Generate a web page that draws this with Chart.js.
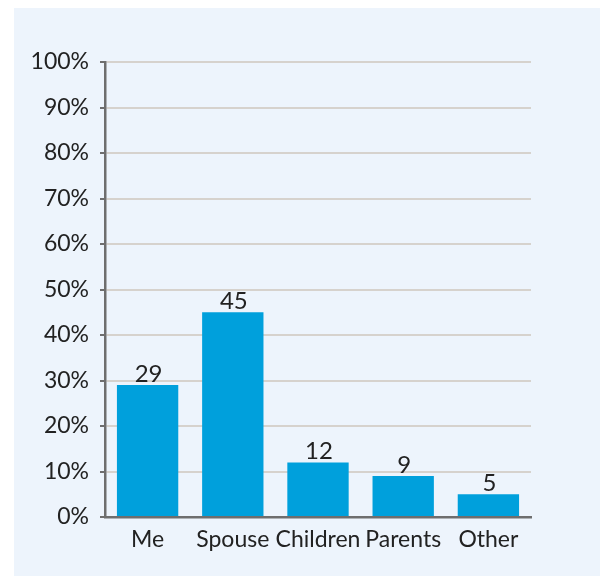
<!DOCTYPE html>
<html>
<head>
<meta charset="utf-8">
<script src="https://cdn.jsdelivr.net/npm/chart.js@4/dist/chart.umd.min.js"></script>
<style>
  html, body { margin: 0; padding: 0; background: #ffffff; }
  #wrap { position: relative; width: 600px; height: 576px; }
  #panel { position: absolute; left: 14px; top: 8px; right: 0; bottom: 0; background: #EDF4FC; }
  #c { position: absolute; left: 0; top: 0; }
</style>
</head>
<body>
<div id="wrap">
  <div id="panel"></div>
  <canvas id="c" width="600" height="576"></canvas>
</div>
<script>
// Who the respondents answer for, percent of responses
const categories = ['Me', 'Spouse', 'Children', 'Parents', 'Other'];
const shares = [29, 45, 12, 9, 5];
const yTicks = [0, 10, 20, 30, 40, 50, 60, 70, 80, 90, 100];

const FONT = 'Lato, "Open Sans", sans-serif';
const AXIS_GREY = '#6E6E6E';
const BAR_BLUE = '#00A0DC';

// Writes each bar's value just above its top
const valueLabels = {
  id: 'valueLabels',
  afterDatasetsDraw(chart) {
    const { ctx } = chart;
    const meta = chart.getDatasetMeta(0);
    ctx.save();
    ctx.font = '24px ' + FONT;
    ctx.fillStyle = '#222222';
    ctx.textAlign = 'center';
    ctx.textBaseline = 'alphabetic';
    meta.data.forEach((bar, i) => {
      ctx.fillText(String(shares[i]), bar.x + 1, bar.y - 3);
    });
    ctx.restore();
  }
};

new Chart(document.getElementById('c'), {
  type: 'bar',
  data: {
    labels: categories,
    datasets: [{
      data: shares,
      backgroundColor: BAR_BLUE,
      borderWidth: 0,
      categoryPercentage: 1,
      barPercentage: 0.72
    }]
  },
  options: {
    responsive: false,
    animation: false,
    layout: { padding: { top: 62, right: 69, bottom: 0, left: 0 } },
    plugins: { legend: { display: false }, tooltip: { enabled: false } },
    scales: {
      x: {
        grid: { display: false, drawTicks: false },
        border: { display: true, color: AXIS_GREY, width: 2.5 },
        ticks: { color: '#222222', font: { family: FONT, size: 23 }, padding: 9, maxRotation: 0, autoSkip: false },
        afterFit(scale) { scale.height = 59; }
      },
      y: {
        min: 0,
        max: 100,
        afterBuildTicks(scale) { scale.ticks = yTicks.map(v => ({ value: v })); },
        grid: { color: '#D6D2CD', lineWidth: 2, tickColor: AXIS_GREY, tickLength: 5, drawTicks: true },
        border: { display: true, color: AXIS_GREY, width: 2.5 },
        ticks: {
          color: '#222222',
          font: { family: FONT, size: 23 },
          padding: 11,
          callback: v => v + '%'
        },
        afterFit(scale) { scale.width = 105; }
      }
    }
  },
  plugins: [valueLabels]
});
</script>
</body>
</html>
